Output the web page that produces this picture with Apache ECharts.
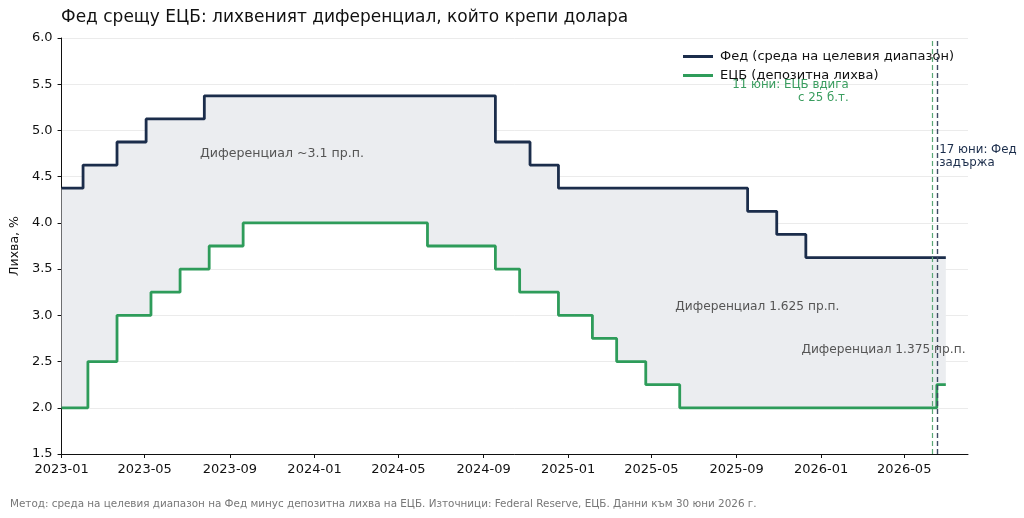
<!DOCTYPE html>
<html>
<head>
<meta charset="utf-8">
<script src="https://cdn.jsdelivr.net/npm/echarts@6/dist/echarts.min.js"></script>
<style>
html,body{margin:0;padding:0;background:#fff;}
#main{width:1024px;height:518px;}
</style>
</head>
<body>
<div id="main"></div>
<script type="text/javascript">
	// данни: дата на промяна -> лихва (последната точка = край на данните)
	var fedDates = ['2023-01-01','2023-02-01','2023-03-22','2023-05-03','2023-07-26','2024-09-18','2024-11-07','2024-12-18','2025-09-17','2025-10-29','2025-12-10','2026-06-30'];
	var fedRates = [4.375,4.625,4.875,5.125,5.375,4.875,4.625,4.375,4.125,3.875,3.625,3.625];

	var ecbDates = ['2023-01-01','2023-02-08','2023-03-22','2023-05-10','2023-06-21','2023-08-02','2023-09-20','2024-06-12','2024-09-18','2024-10-23','2024-12-18','2025-02-05','2025-03-12','2025-04-23','2025-06-11','2026-06-17','2026-06-30'];
	var ecbRates = [2.0,2.5,3.0,3.25,3.5,3.75,4.0,3.75,3.5,3.25,3.0,2.75,2.5,2.25,2.0,2.25,2.25];

	var xTickLabels = ['2023-01','2023-05','2023-09','2024-01','2024-05','2024-09','2025-01','2025-05','2025-09','2026-01','2026-05'];

	var ecbEventDate = '2026-06-11';
	var fedEventDate = '2026-06-17';

	var fedColor = '#1b2d4b';
	var ecbColor = '#2e9c5a';

	// 'YYYY-MM-DD' -> timestamp (UTC)
	function ts(s){
		var p = s.split('-');
		return Date.UTC(+p[0], (+p[1])-1, p[2] ? +p[2] : 1);
	}
	function pairs(dates, vals){
		return dates.map(function(d,i){ return [ts(d), vals[i]]; });
	}

	var myChart = echarts.init(document.getElementById('main'), null, {renderer:'canvas'});

	var option = {
		animation: false,
		textStyle: {fontFamily: 'DejaVu Sans'},
		title: [
			{
				text: 'Фед срещу ЕЦБ: лихвеният диференциал, който крепи долара',
				left: 56, top: 4,
				textStyle: {fontSize: 17, fontWeight: 'normal', color: '#111'}
			},
			{
				text: 'Метод: среда на целевия диапазон на Фед минус депозитна лихва на ЕЦБ. Източници: Federal Reserve, ЕЦБ. Данни към 30 юни 2026 г.',
				left: 5, top: 494,
				textStyle: {fontSize: 10.4, fontWeight: 'normal', color: '#777'}
			}
		],
		legend: {
			orient: 'vertical',
			left: 678, top: 44,
			icon: 'rect',
			itemWidth: 30, itemHeight: 3,
			itemGap: 4,
			textStyle: {fontSize: 13, color: '#111', lineHeight: 15, padding: [0,0,0,2]},
			data: ['Фед (среда на целевия диапазон)', 'ЕЦБ (депозитна лихва)']
		},
		grid: {left: 61, right: 56, top: 38, bottom: 64, containLabel: false},
		xAxis: {
			type: 'value',
			min: ts('2023-01-01'),
			max: ts('2026-08-01'),
			axisLine: {lineStyle: {color: '#111', width: 1}},
			axisTick: {show: true, length: 4, lineStyle: {color: '#111'}, customValues: xTickLabels.map(ts)},
			axisLabel: {
				customValues: xTickLabels.map(ts),
				fontSize: 13, color: '#111', margin: 9,
				formatter: function(v){
					var d = new Date(v);
					var m = d.getUTCMonth()+1;
					return d.getUTCFullYear() + '-' + (m<10?'0':'') + m;
				}
			},
			splitLine: {show: false}
		},
		yAxis: {
			type: 'value',
			min: 1.5, max: 6.0, interval: 0.5,
			name: 'Лихва, %',
			nameLocation: 'middle',
			nameGap: 34,
			nameTextStyle: {fontSize: 12.5, color: '#111'},
			axisLine: {show: true, lineStyle: {color: '#111', width: 1}},
			axisTick: {show: true, length: 4, lineStyle: {color: '#111'}},
			axisLabel: {fontSize: 13, color: '#111', margin: 9, formatter: function(v){ return v.toFixed(1); }},
			splitLine: {show: true, lineStyle: {color: '#ebebeb', width: 1}}
		},
		series: [
			{
				// запълване между двете стъпаловидни линии
				type: 'custom',
				name: 'gap',
				z: 1,
				silent: true,
				data: [[ts(fedDates[0]), fedRates[0]]],
				renderItem: function(params, api){
					var pts = [];
					var i;
					for(i=0;i<fedDates.length-1;i++){
						pts.push(api.coord([ts(fedDates[i]), fedRates[i]]));
						pts.push(api.coord([ts(fedDates[i+1]), fedRates[i]]));
					}
					for(i=ecbDates.length-2;i>=0;i--){
						pts.push(api.coord([ts(ecbDates[i+1]), ecbRates[i]]));
						pts.push(api.coord([ts(ecbDates[i]), ecbRates[i]]));
					}
					return {type:'polygon', shape:{points:pts}, style:{fill:'#ebedf0'}};
				}
			},
			{
				name: 'Фед (среда на целевия диапазон)',
				type: 'line',
				step: 'end',
				z: 3,
				symbol: 'none',
				data: pairs(fedDates, fedRates),
				lineStyle: {color: fedColor, width: 2.8},
				itemStyle: {color: fedColor},
				markLine: {
					silent: true,
					symbol: 'none',
					label: {show: false},
					lineStyle: {color: '#3c4a63', type: [5,3], width: 1.4},
					data: [{xAxis: ts(fedEventDate)}]
				},
				markPoint: {
					silent: true,
					symbol: 'circle', symbolSize: 0,
					data: [
						{coord: [ts('2023-11-15'), 4.75], label: {show:true, position:'inside', formatter:'Диференциал ~3.1 пр.п.', color:'#555', fontSize:12.6}},
						{coord: [ts('2025-10-01'), 3.09], label: {show:true, position:'inside', formatter:'Диференциал 1.625 пр.п.', color:'#555', fontSize:12.2}},
						{coord: [ts('2026-04-01'), 2.63], label: {show:true, position:'inside', formatter:'Диференциал 1.375 пр.п.', color:'#555', fontSize:12.2}},
						{coord: [ts(fedEventDate), 4.72], label: {show:true, position:'inside', align:'left', offset:[2.5,0], formatter:'17 юни: Фед\nзадържа', color:fedColor, fontSize:11.8, lineHeight:13}}
					]
				}
			},
			{
				name: 'ЕЦБ (депозитна лихва)',
				type: 'line',
				step: 'end',
				z: 3,
				symbol: 'none',
				data: pairs(ecbDates, ecbRates),
				lineStyle: {color: ecbColor, width: 2.8},
				itemStyle: {color: ecbColor},
				markLine: {
					silent: true,
					symbol: 'none',
					label: {show: false},
					lineStyle: {color: '#5aa876', type: [5,3], width: 1.2},
					data: [{xAxis: ts(ecbEventDate)}]
				},
				markPoint: {
					silent: true,
					symbol: 'circle', symbolSize: 0,
					data: [
						{coord: [ts(ecbEventDate), 5.42], label: {show:true, position:'inside', align:'right', offset:[-84,0], formatter:'11 юни: ЕЦБ вдига\nс 25 б.т.', color:'#3a9d5f', fontSize:11.8, lineHeight:13}}
					]
				}
			}
		]
	};

	myChart.setOption(option);
</script>
</body>
</html>
